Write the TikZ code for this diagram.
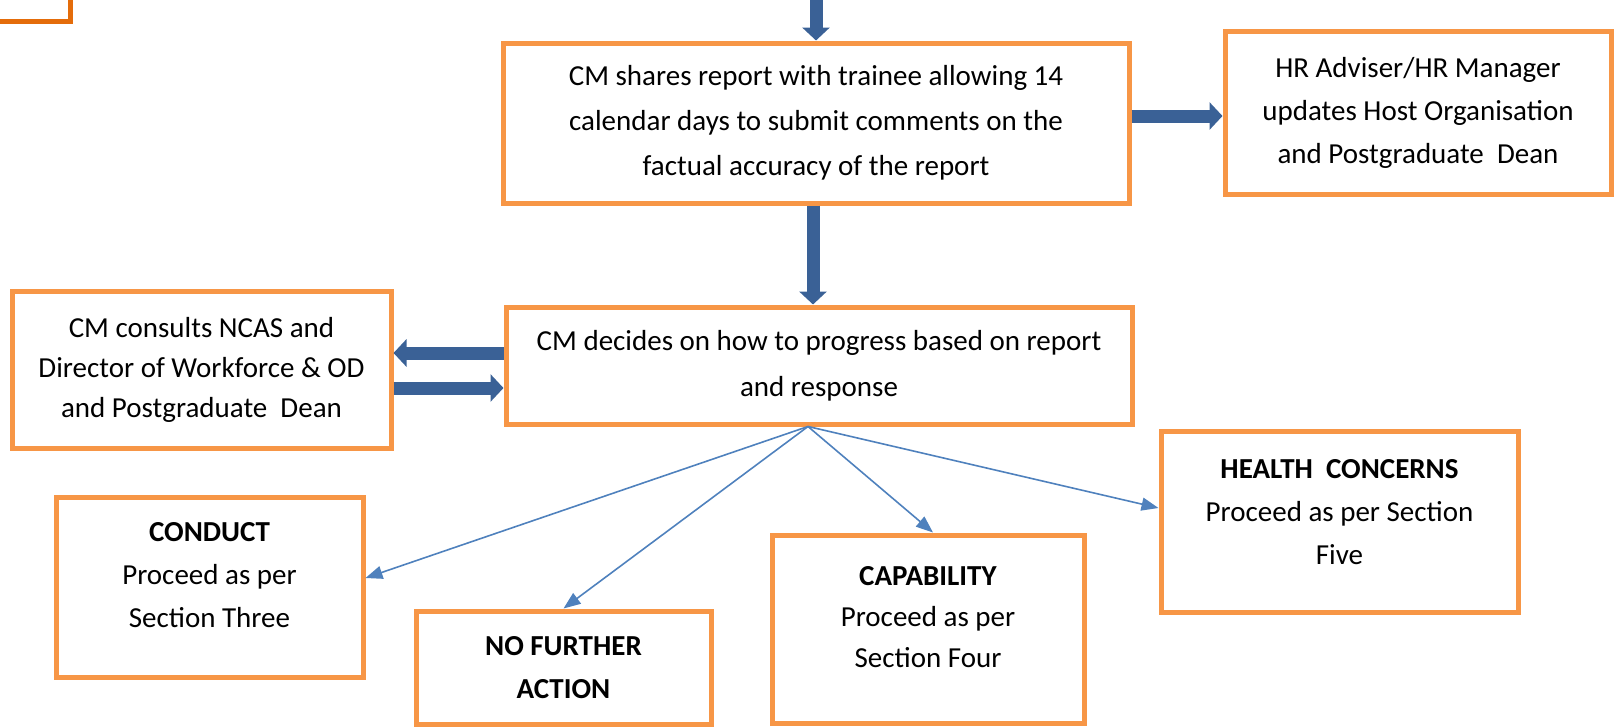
\documentclass[tikz,border=0pt]{standalone}
\usepackage{fontspec}
\setmainfont{Carlito}
\usetikzlibrary{arrows.meta}

\definecolor{boxorange}{HTML}{F79646}
\definecolor{darkorange}{HTML}{E46C0A}
\definecolor{arrowblue}{HTML}{3A6196}
\definecolor{lineblue}{HTML}{4F81BD}

\tikzset{
  box/.style={draw=boxorange, line width=2.5pt, align=center, inner sep=0pt,
    font=\fontsize{14.5}{21.5}\selectfont},
  thickarrow/.style={draw=arrowblue, line width=6.5pt,
    -{Triangle[width=13.5pt,length=6.5pt]}},
  thinarrow/.style={draw=lineblue, line width=0.8pt,
    -{Triangle[width=6.5pt,length=8.5pt]}}
}

\begin{document}
\begin{tikzpicture}[x=0.5pt, y=-0.5pt]
    \useasboundingbox (0,0) rectangle (1614,728);

    % corner of the box above
    \draw[darkorange, line width=2.5pt] (-20,21) -- (70,21) -- (70,-10);

    \node[box, minimum width=313pt, minimum height=80pt,
          font=\fontsize{14.5}{22.5}\selectfont] (share) at (816,123)
        {CM shares report with trainee allowing 14\\calendar days to submit comments on the\\factual accuracy of the report};
    \node[box, minimum width=193pt, minimum height=81.5pt] (hr) at (1418,112.5)
        {HR Adviser/HR Manager\\updates Host Organisation\\and Postgraduate\ \ Dean};
    \node[box, minimum width=313pt, minimum height=58.5pt,
          font=\fontsize{14.5}{23}\selectfont] (decide) at (819,365.5)
        {CM decides on how to progress based on report\\and response};
    \node[box, minimum width=189.5pt, minimum height=78.5pt,
          font=\fontsize{14.5}{20}\selectfont] (consult) at (201.5,369.5)
        {CM consults NCAS and\\Director of Workforce \& OD\\and Postgraduate\ \ Dean};

    \node[box, minimum width=153.5pt, minimum height=90pt, text depth=12pt] (conduct) at (209.5,587)
        {\textbf{CONDUCT}\\Proceed as per\\Section Three};
    \node[box, minimum width=147.5pt, minimum height=56.5pt] (nfa) at (563.5,667.5)
        {\textbf{NO FURTHER}\\\textbf{ACTION}};
    \node[box, minimum width=156pt, minimum height=94pt, text depth=12pt,
          font=\fontsize{14.5}{20.5}\selectfont] (capability) at (928,629)
        {\textbf{CAPABILITY}\\Proceed as per\\Section Four};
    \node[box, minimum width=178.5pt, minimum height=90.5pt, text depth=10pt] (health) at (1339.5,521.5)
        {\textbf{HEALTH\ \ CONCERNS}\\Proceed as per Section\\Five};

    % thick connectors
    \coordinate (in) at (816,0);
    \draw[thickarrow] (in) -- (share.north);
    \draw[thickarrow] ([yshift=3.5pt]share.east) -- ([yshift=3.5pt]share.east -| hr.west);
    \draw[thickarrow] ([xshift=-1.5pt]share.south) -- ([xshift=-1.5pt]share.south |- decide.north);
    \draw[thickarrow] ([yshift=6.25pt]decide.west) -- ([yshift=6.25pt]decide.west -| consult.east);
    \draw[thickarrow] ([yshift=-11.25pt]consult.east |- decide.west) -- ([yshift=-11.25pt]decide.west);

    % outcomes
    \coordinate (fork) at ([xshift=-5.5pt]decide.south);
    \draw[thinarrow] (fork) -- ([yshift=4.5pt]conduct.east);
    \draw[thinarrow] (fork) -- (nfa.north);
    \draw[thinarrow] (fork) -- ([xshift=2.5pt]capability.north);
    \draw[thinarrow] (fork) -- ([yshift=6.75pt]health.west);

\end{tikzpicture}
\end{document}
